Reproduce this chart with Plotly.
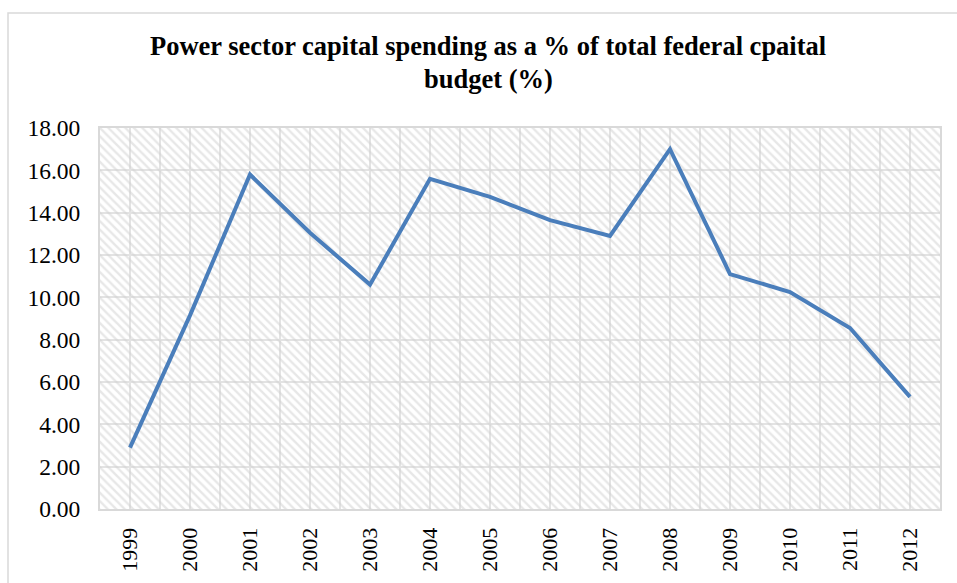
import plotly.graph_objects as go

# Power sector share of federal capital budget, by year
years = ["1999", "2000", "2001", "2002", "2003", "2004", "2005",
         "2006", "2007", "2008", "2009", "2010", "2011", "2012"]
share_pct = [2.90, 9.15, 15.80, 13.05, 10.60, 15.60, 14.75,
             13.65, 12.90, 17.00, 11.10, 10.25, 8.55, 5.30]

y_ticks = [0, 2, 4, 6, 8, 10, 12, 14, 16, 18]
y_tick_text = [f"{v:.2f}" for v in y_ticks]

title_lines = ["Power sector capital spending as a % of total federal cpaital",
               "budget (%)"]

x_pos = list(range(len(years)))
x_lo, x_hi = -0.5, len(years) - 0.5
y_lo, y_hi = 0, 18

SERIF = "Liberation Serif, Times New Roman, serif"
GRID = "#e3e3e3"

fig = go.Figure()

# hatched plot-area background
fig.add_trace(go.Scatter(
    x=[x_lo, x_hi, x_hi, x_lo, x_lo],
    y=[y_lo, y_lo, y_hi, y_hi, y_lo],
    mode="lines", line=dict(width=0), fill="toself",
    fillcolor="rgba(0,0,0,0)",
    fillpattern=dict(shape="\\", fgcolor="#d0d0d0", bgcolor="rgba(0,0,0,0)",
                     size=6, solidity=0.4),
    hoverinfo="skip", showlegend=False,
))

fig.add_trace(go.Scatter(
    x=x_pos, y=share_pct, mode="lines",
    line=dict(color="#4a7ebb", width=4),
    showlegend=False,
))

# outer chart frame
fig.add_shape(type="rect", xref="paper", yref="paper",
              x0=(8 - 100) / 840, x1=1.2, y0=-0.5, y1=(509 - 13) / 381,
              line=dict(color="#d9d9d9", width=1.5), fillcolor="rgba(0,0,0,0)",
              layer="below")

# two-line bold title
for i, line in enumerate(title_lines):
    fig.add_annotation(
        xref="paper", yref="paper",
        x=(488 - 100) / 840, y=(509 - (46 + 33 * i)) / 381,
        xanchor="center", yanchor="middle", showarrow=False,
        text=f"<b>{line}</b>",
        font=dict(family=SERIF, size=26.5, color="#000000"),
    )

fig.update_layout(
    width=957, height=583,
    margin=dict(l=100, r=17, t=128, b=74),
    paper_bgcolor="white", plot_bgcolor="white",
    font=dict(family=SERIF, size=22, color="#000000"),
    xaxis=dict(
        range=[x_lo, x_hi], tickmode="array", tickvals=x_pos, ticktext=years,
        tickangle=-90, showgrid=True, gridcolor=GRID, gridwidth=1.5,
        minor=dict(tickmode="array",
                   tickvals=[i - 0.5 for i in range(len(years) + 1)],
                   showgrid=True, gridcolor=GRID, gridwidth=1.5),
        showline=True, linecolor="#d9d9d9", linewidth=2, mirror=True,
        zeroline=False, ticks="", ticklabelstandoff=8, automargin=False,
        tickfont=dict(family=SERIF, size=22),
    ),
    yaxis=dict(
        range=[y_lo, y_hi], tickmode="array", tickvals=y_ticks, ticktext=y_tick_text,
        showgrid=True, gridcolor=GRID, gridwidth=1.5,
        showline=True, linecolor="#d9d9d9", linewidth=2, mirror=True,
        zeroline=False, ticks="", ticklabelstandoff=13, automargin=False,
        tickfont=dict(family=SERIF, size=23.5),
    ),
)

fig.write_html("out.html")
